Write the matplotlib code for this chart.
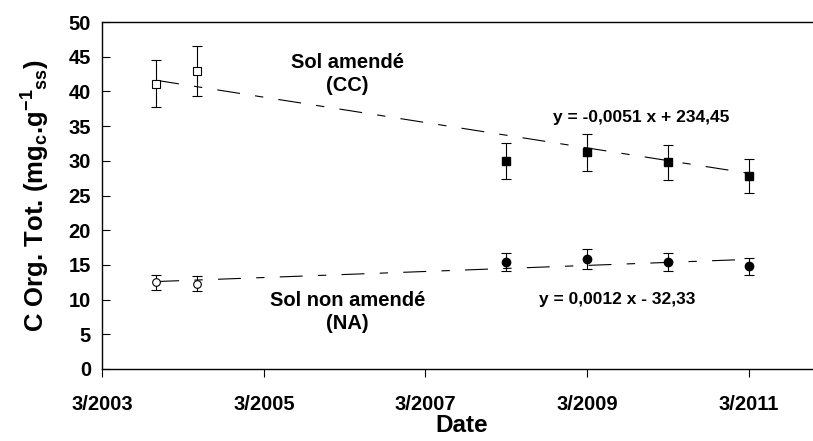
import matplotlib
matplotlib.use('Agg')
import matplotlib.pyplot as plt
import matplotlib.dates as mdates
import numpy as np

plt.rcParams['font.family'] = ['Liberation Sans', 'DejaVu Sans']
plt.rcParams['font.weight'] = 'bold'
plt.rcParams['mathtext.fontset'] = 'custom'
plt.rcParams['mathtext.rm'] = 'Liberation Sans:bold'
plt.rcParams['mathtext.it'] = 'Liberation Sans:bold'
plt.rcParams['mathtext.bf'] = 'Liberation Sans:bold'
plt.rcParams['lines.scale_dashes'] = False

# sampling dates
dates = ['2003-11-01', '2004-05-01', '2008-03-01', '2009-03-01', '2010-03-01', '2011-03-01']

# Sol amende (CC)
cc_mean = [41.1, 42.9, 30.0, 31.2, 29.8, 27.8]
cc_err = [3.4, 3.6, 2.6, 2.65, 2.5, 2.4]
# Sol non amende (NA)
na_mean = [12.5, 12.3, 15.4, 15.85, 15.4, 14.8]
na_err = [1.05, 1.05, 1.3, 1.4, 1.3, 1.2]

# trend lines, values at first and last date
cc_trend = [41.6, 28.2]
na_trend = [12.6, 15.8]

cc_eq = 'y = -0,0051 x + 234,45'
na_eq = 'y = 0,0012 x - 32,33'

tick_dates = ['2003-03-01', '2005-03-01', '2007-03-01', '2009-03-01', '2011-03-01']
tick_labels = ['3/2003', '3/2005', '3/2007', '3/2009', '3/2011']

x = mdates.datestr2num(dates)
xt = mdates.datestr2num(tick_dates)

fig = plt.figure(figsize=(8.13, 4.41), dpi=100)
ax = fig.add_axes([102 / 813, 1 - 369 / 441, 1 - 102 / 813 + 0.01, 347 / 441])

dash = (16.5, 11, 6, 11)
ax.plot([x[0], x[-1]], cc_trend, color='black', lw=0.8, dashes=dash, zorder=2)
ax.plot([x[0], x[-1]], na_trend, color='black', lw=0.8, dashes=dash, zorder=2)

err_kw = dict(ecolor='black', elinewidth=0.8, capsize=3.5, capthick=0.8, linestyle='none', zorder=3)
ax.errorbar(x[:2], cc_mean[:2], yerr=cc_err[:2], marker='s', ms=5.5, mfc='white', mec='black', mew=0.8, **err_kw)
ax.errorbar(x[2:], cc_mean[2:], yerr=cc_err[2:], marker='s', ms=6, mfc='black', mec='black', **err_kw)
ax.errorbar(x[:2], na_mean[:2], yerr=na_err[:2], marker='o', ms=5.5, mfc='white', mec='black', mew=0.8, **err_kw)
ax.errorbar(x[2:], na_mean[2:], yerr=na_err[2:], marker='o', ms=6, mfc='black', mec='black', **err_kw)

ax.set_ylim(0, 50)
ax.set_yticks(np.arange(0, 51, 5))
ax.set_xlim(xt[0], xt[0] + (813 - 102) / 160 * (xt[1] - xt[0]))
ax.set_xticks(xt)
ax.set_xticklabels(tick_labels)

ax.tick_params(axis='y', direction='in', length=6, width=0.8, labelsize=14.5, pad=8)
ax.tick_params(axis='x', direction='out', length=6, width=0.8, labelsize=14.5, pad=13)
for s in ['left', 'bottom', 'top']:
    ax.spines[s].set_linewidth(1.0)
ax.spines['right'].set_visible(False)

ax.set_xlabel('Date', fontsize=17.5, fontweight='bold', labelpad=0)
ax.set_ylabel('C Org. Tot. (mg$_{c}$.g$^{-1}$$_{ss}$)', fontsize=18.5, fontweight='bold', labelpad=12)

ax.text(mdates.datestr2num('2006-03-15'), 42.5, 'Sol amendé\n(CC)', ha='center', va='center',
        fontsize=14.5, fontweight='bold', linespacing=1.3)
ax.text(mdates.datestr2num('2006-03-15'), 8.2, 'Sol non amendé\n(NA)', ha='center', va='center',
        fontsize=14.5, fontweight='bold', linespacing=1.3)
ax.text(mdates.datestr2num('2009-11-01'), 36.2, cc_eq, ha='center', va='center', fontsize=12.5, fontweight='bold')
ax.text(mdates.datestr2num('2009-07-15'), 10.0, na_eq, ha='center', va='center', fontsize=12.5, fontweight='bold')

fig.savefig('out.png', dpi=100)
